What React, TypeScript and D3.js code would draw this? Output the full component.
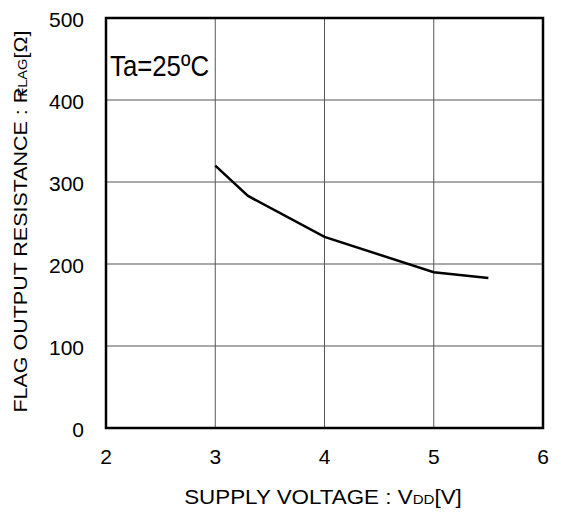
import React from "react";
import * as d3 from "d3";

const xTicks = [2, 3, 4, 5, 6];
const yTicks = [0, 100, 200, 300, 400, 500];
const voltage = [3, 3.3, 4, 5, 5.5];
const resistance = [320, 283, 233, 190, 183];

export default function App() {
  const W = 561, H = 513;
  const L = 106, R = 543, T = 18, B = 428;
  const x = d3.scaleLinear().domain([2, 6]).range([L, R]);
  const y = d3.scaleLinear().domain([0, 500]).range([B, T]);
  const pts: [number, number][] = voltage.map((v, i) => [v, resistance[i]]);
  const line = d3.line<[number, number]>().x(d => x(d[0])).y(d => y(d[1]));
  const font = "Liberation Sans, Arial, sans-serif";
  return (
    <svg width={W} height={H} style={{ position: "absolute", left: 0, top: 0, background: "#fff" }} fontFamily={font}>
      <rect width={W} height={H} fill="#fff" />
      {xTicks.slice(1, -1).map(t => (
        <line key={"gx" + t} x1={x(t)} x2={x(t)} y1={T} y2={B} stroke="#555" strokeWidth={1} />
      ))}
      {yTicks.slice(1, -1).map(t => (
        <line key={"gy" + t} x1={L} x2={R} y1={y(t)} y2={y(t)} stroke="#555" strokeWidth={1} />
      ))}
      <rect x={L} y={T} width={R - L} height={B - T} fill="none" stroke="#000" strokeWidth={2.5} />
      <path d={line(pts) || ""} fill="none" stroke="#000" strokeWidth={2.5} />
      {xTicks.map(t => (
        <text key={"xt" + t} x={x(t)} y={463.5} fontSize={21} textAnchor="middle" fill="#000">{t}</text>
      ))}
      {yTicks.map(t => (
        <text key={"yt" + t} x={84} y={y(t) + 8.5} fontSize={21} textAnchor="end" fill="#000">{t}</text>
      ))}
      <text x={110} y={75.5} fontSize={30} textLength={99} lengthAdjust="spacingAndGlyphs" fill="#000">Ta=25ºC</text>
      <text transform="translate(323,504) scale(1.12,1)" fontSize={20} textAnchor="middle" fill="#000">
        SUPPLY VOLTAGE : V<tspan fontSize={13.5}>DD</tspan>[V]
      </text>
      <text transform="translate(27,221.5) rotate(-90) scale(1.13,1)" fontSize={19} textAnchor="middle" fill="#000">
        FLAG OUTPUT RESISTANCE : R<tspan fontSize={13} dx={-8}>FLAG</tspan>[Ω]
      </text>
    </svg>
  );
}
